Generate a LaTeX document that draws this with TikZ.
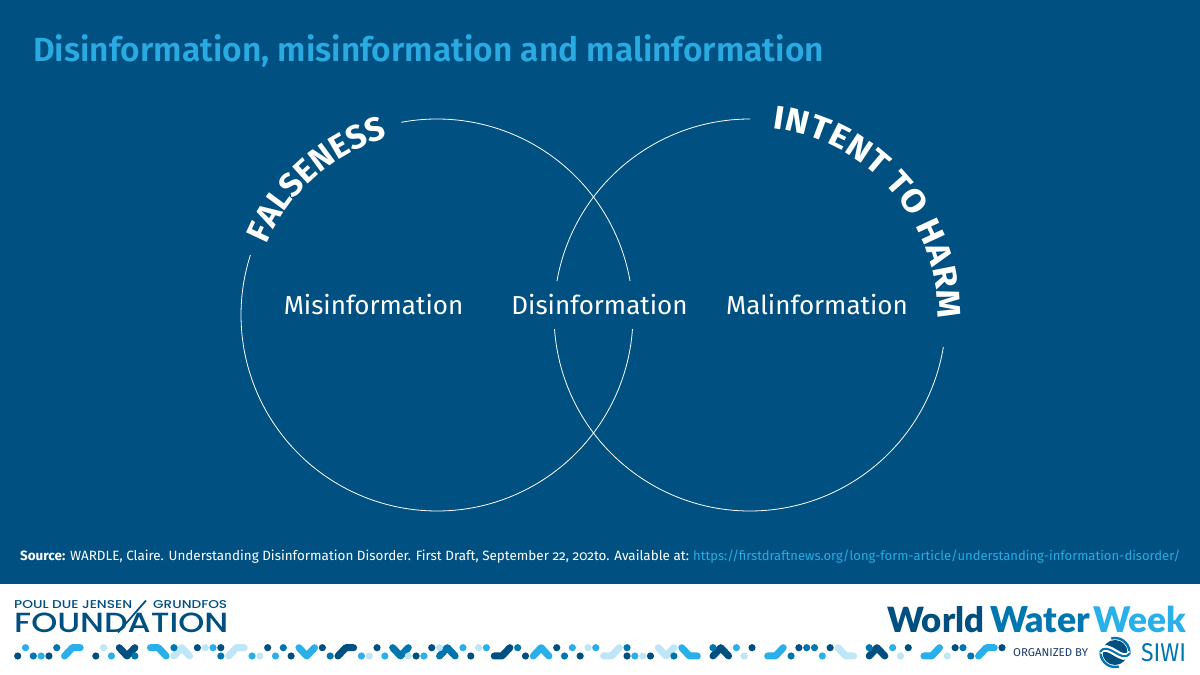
\documentclass[tikz,border=0pt]{standalone}
\usepackage{fontspec}
\usepackage{graphicx}
\usepackage{tikz}
\usetikzlibrary{decorations.text}
\setmainfont[Numbers=OldStyle]{Fira Sans}
\newfontfamily\logofont{Poppins Medium}
\newfontfamily\weekfont{Lato Black}
\definecolor{pagebg}{HTML}{005082}
\definecolor{titleblue}{HTML}{29ABE2}
\definecolor{sdark}{HTML}{004F81}
\definecolor{smid}{HTML}{0076B0}
\definecolor{sbright}{HTML}{29B0EA}
\definecolor{spale}{HTML}{BFE6F7}
\definecolor{orgnavy}{HTML}{1D3C6A}
\tikzset{
  vennline/.style={draw=white,line width=0.8pt},
  vennlabel/.style={text=white,font=\fontsize{26}{30}\selectfont,anchor=base,inner sep=0},
  plain/.style={anchor=base west,inner sep=0},
  pipe/.style={line width=7pt,line cap=round,line join=round}
}
\begin{document}
\begin{tikzpicture}[x=1pt,y=1pt]
  \useasboundingbox (0,0) rectangle (1200,675);
  \fill[pagebg] (0,0) rectangle (1200,675);
  \fill[white] (0,0) rectangle (1200,91);
  \node[plain,text=titleblue,font=\fontsize{33.5}{36}\selectfont\fontspec{Fira Sans SemiBold}] (title) at (33,613) {Disinformation, misinformation and malinformation};

  \coordinate (falsecentre) at (437,360);
  \coordinate (harmcentre) at (750,360);
  \draw[vennline] (falsecentre)+(100.5:196) arc[start angle=100.5,end angle=10,radius=196];
  \draw[vennline] (falsecentre)+(-4.1:196) arc[start angle=-4.1,end angle=-197.8,radius=196];
  \draw[vennline] (harmcentre)+(90:196) arc[start angle=90,end angle=170,radius=196];
  \draw[vennline] (harmcentre)+(184.1:196) arc[start angle=184.1,end angle=350.6,radius=196];

  \path[postaction={decorate,decoration={text along path,text align=left,
    text={|\fontsize{33.2}{34}\selectfont\fontspec{Fira Sans Bold}\color{white}|FALSENESS}}}]
    (falsecentre)+(157.5:184) arc[start angle=157.5,end angle=90,radius=184];
  \path[postaction={decorate,decoration={text along path,text align=fit to path,
    text={|\fontsize{33}{34}\selectfont\fontspec[WordSpace=0.8,FakeStretch=1.08]{Fira Sans Bold}\color{white}|INTENT TO HARM}}}]
    (harmcentre)+(83:188) arc[start angle=83,end angle=-1,radius=188];

  \node[vennlabel] (misinfo) at (373.5,360) {Misinformation};
  \node[vennlabel] (disinfo) at (599.5,360) {Disinformation};
  \node[vennlabel] (malinfo) at (817,360) {Malinformation};

  \node[plain,text=white,font=\fontsize{13.45}{16}\selectfont] (source) at (20,114) {\textbf{Source:} WARDLE, Claire. Understanding Disinformation Disorder. First Draft, September 22, 202to. Available at:};
  \node[plain,text=titleblue,font=\fontsize{13.05}{16}\selectfont] (link) at (693,114) {https://firstdraftnews.org/long-form-article/understanding-information-disorder/};

  \node[plain,text=sdark] (poul) at (14,66.5) {\logofont\resizebox{118pt}{8pt}{POUL DUE JENSEN}};
  \node[plain,text=sdark] (grundfos) at (153,66.5) {\logofont\resizebox{74pt}{8pt}{GRUNDFOS}};
  \node[plain,text=sdark] (foundation) at (14,42.5) {\logofont\resizebox{214pt}{19.5pt}{FOUNDATION}};
  \coordinate (slashtop) at (146,74.5);
  \coordinate (slashfoot) at (118,42.5);
  \draw[sdark,line width=1.8pt] (slashtop)--(slashfoot);

  \node[plain,text=sdark] (world) at (887,42) {\weekfont\resizebox{97pt}{!}{World}};
  \node[plain,text=smid] (water) at (990,42) {\weekfont\resizebox{100pt}{!}{Water}};
  \node[plain,text=sbright] (week) at (1093,42) {\weekfont\resizebox{93pt}{!}{Week}};
  \node[plain,text=orgnavy,font=\fontsize{11.4}{12}\selectfont] (organized) at (1013,18) {ORGANIZED BY};
  \node[plain,text=smid] (siwi) at (1141,13) {\resizebox{45pt}{18pt}{SIWI}};
  \coordinate (siwicentre) at (1115,22.5);
  \fill[sdark] (siwicentre) circle (12.5);
  \draw[smid,line width=2.4pt] (siwicentre)+(178:14.5) arc[start angle=178,end angle=285,radius=14.5];
  \draw[smid,line width=2.4pt] (siwicentre)+(-2:14.5) arc[start angle=-2,end angle=105,radius=14.5];
  \draw[white,line width=6.5pt] (1099,23) .. controls (1108,36) and (1122,9) .. (1131,22);
  \draw[smid,line width=2pt] (1100,23) .. controls (1108,35) and (1122,10) .. (1130,22);

  \begin{scope}[x=7.812pt,y=8.3pt,shift={(17.7pt,19pt)}]
    \foreach \col/\chain in {
      sbright/{(6,0)--(7,1)--(8,1)},sdark/{(13,1)--(14,0)--(15,1)},sbright/{(17,1)--(18,1)--(19,0)},
      spale/{(20,0)--(21,1)--(22,0)},spale/{(27,0)--(28,1)--(29,1)},sbright/{(36,1)--(37,0)--(38,1)},
      sdark/{(41,0)--(42,1)--(43,1)},smid/{(48,1)--(49,0)--(50,1)},smid/{(54,0)--(55,1)--(56,0)},
      sdark/{(61,0)--(62,0)--(63,1)},sbright/{(66,0)--(67,1)--(68,0)},spale/{(75,0)--(76,0)--(77,1)},
      spale/{(82,1)--(83,0)--(84,1)},sbright/{(85,1)--(86,0)--(87,0)},sdark/{(89,0)--(90,1)--(91,0)},
      sbright/{(96,0)--(97,0)--(98,1)},spale/{(105,1)--(106,0)--(107,0)},sdark/{(109,0)--(110,1)--(111,0)},
      sbright/{(116,0)--(117,0)--(118,1)},sbright/{(123,0)--(124,1)--(125,1)}}
      \draw[\col,pipe] \chain;
    \foreach \k/\r/\col in {
      0/0/sdark,1/1/sbright,2/0/smid,3/0/sbright,4/0/sdark,5/1/smid,10/0/sdark,11/1/spale,12/0/sbright,
      15/0/smid,20/1/smid,23/1/sdark,24/1/spale,25/1/sbright,26/1/sdark,26/0/smid,30/0/sbright,31/0/spale,
      32/1/sdark,33/0/sbright,34/1/smid,35/0/sdark,39/1/sdark,40/0/smid,44/0/sbright,45/0/spale,46/1/sdark,
      47/0/sbright,50/0/spale,51/0/sdark,52/0/sbright,53/1/sdark,54/1/spale,57/1/sbright,58/0/sdark,
      59/1/spale,60/1/sbright,64/1/smid,65/0/sdark,69/1/sdark,70/0/smid,71/1/sbright,72/0/sdark,73/1/spale,
      74/1/sbright,78/1/smid,78/0/sdark,79/0/sbright,80/0/spale,81/0/sdark,84/0/smid,89/1/smid,92/1/sbright,
      93/0/spale,94/1/sdark,99/0/smid,100/1/sdark,101/1/smid,102/1/smid,103/0/sbright,104/1/sdark,
      109/1/smid,112/1/sbright,113/0/spale,114/1/sdark,119/0/spale,120/1/sdark,121/1/smid,122/0/smid,126/1/sdark}
      \fill[\col] (\k,\r) circle (3.6pt);
  \end{scope}
\end{tikzpicture}
\end{document}
